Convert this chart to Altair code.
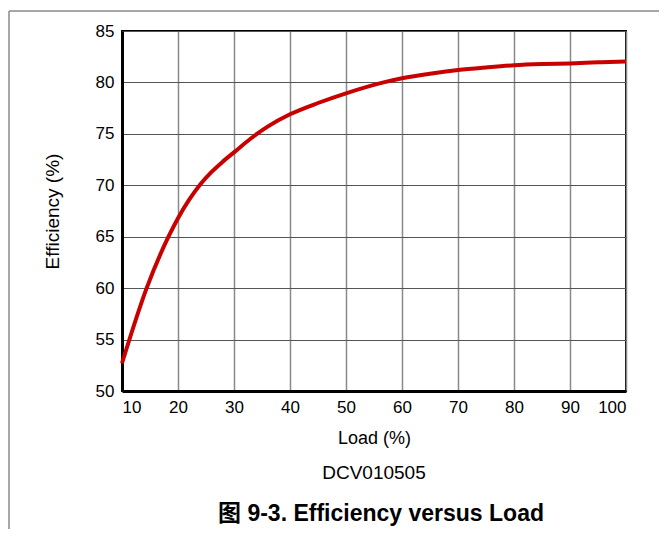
import altair as alt
import pandas as pd

load = [10, 14.4, 18.3, 20, 22, 24, 26, 28, 30, 33, 36, 40, 45, 50, 56.7, 60, 65, 70, 75, 80, 85, 90, 95, 100]
efficiency = [52.7, 60.0, 65.0, 66.8, 68.6, 70.1, 71.3, 72.3, 73.2, 74.55, 75.7, 76.9, 78.0, 78.94, 80.0, 80.4, 80.85, 81.2, 81.45, 81.66, 81.78, 81.85, 81.95, 82.04]

x_ticks = [10, 20, 30, 40, 50, 60, 70, 80, 90, 100]
y_ticks = [50, 55, 60, 65, 70, 75, 80, 85]

FONT = "Liberation Sans, Arial, Helvetica, Noto Sans CJK SC"

df = pd.DataFrame({"load": load, "eff": efficiency})

line = alt.Chart(df).mark_line(color="#c80000", strokeWidth=4, interpolate="monotone").encode(
    x=alt.X("load:Q", scale=alt.Scale(domain=[10, 100], nice=False),
            axis=alt.Axis(values=x_ticks, title="Load (%)", grid=True, gridColor="#8a8a8a", gridWidth=1.5,
                          domainColor="black", domainWidth=3, ticks=False, labelPadding=8,
                          labelFontSize=17, titleFontSize=18, titleFontWeight="normal",
                          titlePadding=14, labelColor="black", titleColor="black",
                          labelFont=FONT, titleFont=FONT)),
    y=alt.Y("eff:Q", scale=alt.Scale(domain=[50, 85], nice=False),
            axis=alt.Axis(values=y_ticks, title="Efficiency (%)", grid=True, gridColor="#555555", gridWidth=1,
                          domainColor="black", domainWidth=3, ticks=False, labelPadding=8,
                          labelFontSize=17, titleFontSize=19, titleFontWeight="normal",
                          titlePadding=33, labelColor="black", titleColor="black",
                          labelFont=FONT, titleFont=FONT)),
)

blank = alt.Data(values=[{}])

frame_left = alt.Chart(blank).mark_rule(color="#8a8a8a", strokeWidth=1.5).encode(
    x=alt.value(-113), y=alt.value(-20), y2=alt.value(560))
frame_top = alt.Chart(blank).mark_rule(color="#8a8a8a", strokeWidth=1.5).encode(
    x=alt.value(-113), x2=alt.value(700), y=alt.value(-20))

sub = alt.Chart(blank).mark_text(text="DCV010505", fontSize=19, font=FONT, color="black",
                                 align="center", baseline="middle").encode(
    x=alt.value(252), y=alt.value(442))
caption = alt.Chart(blank).mark_text(text="图 9-3. Efficiency versus Load", fontSize=23, fontWeight="bold",
                                     font=FONT, color="black", align="center", baseline="middle").encode(
    x=alt.value(259), y=alt.value(483))

chart = alt.layer(frame_left, frame_top, line, sub, caption).properties(
    width=504, height=360,
    autosize=alt.AutoSizeParams(type="none"),
    padding={"left": 114, "top": 23, "right": 33, "bottom": 138},
).configure_view(stroke="black", strokeWidth=2)

chart.save("out.html", embed_options={"renderer": "svg", "actions": False})
